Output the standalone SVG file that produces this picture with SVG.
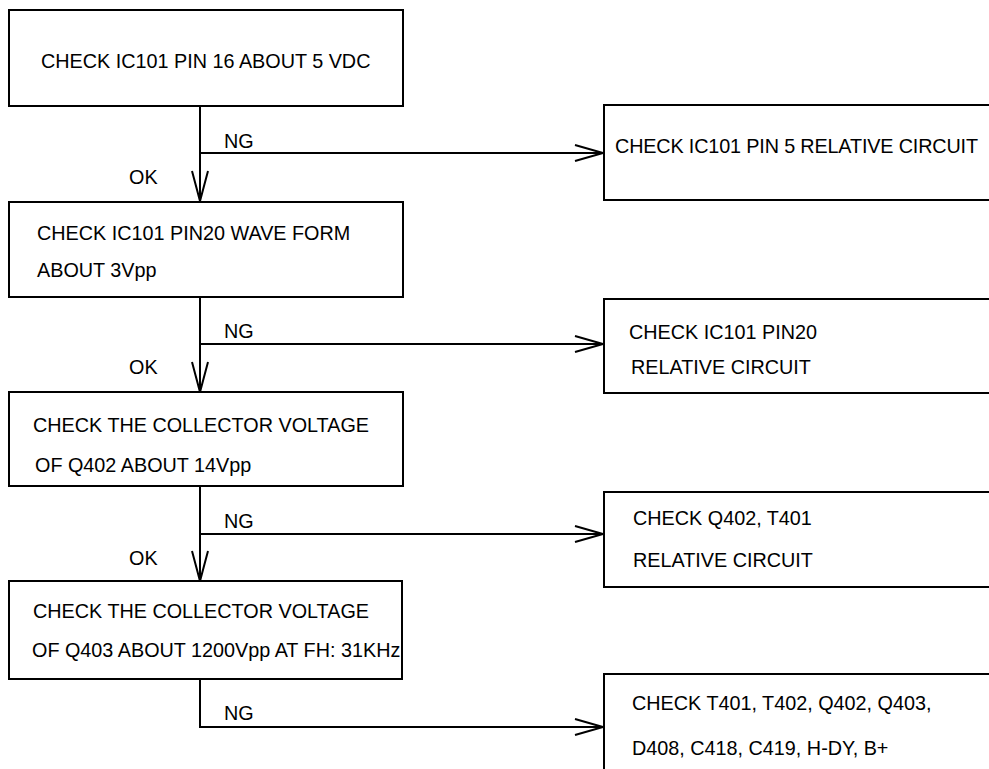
<svg xmlns="http://www.w3.org/2000/svg" width="989" height="769" viewBox="0 0 989 769">
<style>
.box{fill:#fff;stroke:#000;stroke-width:2}
.t{font-family:"Liberation Sans",Arial,sans-serif;font-size:19.8px;fill:#000}
.c{fill:none;stroke:#000;stroke-width:2}
</style>
<rect width="989" height="769" fill="#fff"/>
<g id="connectors">
<path class="c" d="M200 106V201M200 153H603M192 171L200 201L208 171M575 145L603 153L575 161"/>
<path class="c" d="M200 297V392M200 344H603M192 362L200 392L208 362M575 336L603 344L575 352"/>
<path class="c" d="M200 486V581M200 534H603M192 551L200 581L208 551M575 526L603 534L575 542"/>
<path class="c" d="M200 679V728M200 727H603M575 719L603 727L575 735"/>
<text class="t" x="224" y="148">NG</text>
<text class="t" x="129" y="184">OK</text>
<text class="t" x="224" y="338">NG</text>
<text class="t" x="129" y="374">OK</text>
<text class="t" x="224" y="528">NG</text>
<text class="t" x="129" y="565">OK</text>
<text class="t" x="224" y="720">NG</text>
</g>
<g id="n1"><rect class="box" x="9" y="10" width="394" height="96"/><text class="t" x="41" y="68">CHECK IC101 PIN 16 ABOUT 5 VDC</text></g>
<g id="n2"><rect class="box" x="9" y="202" width="394" height="95"/><text class="t" x="37" y="240">CHECK IC101 PIN20 WAVE FORM</text><text class="t" x="37" y="277">ABOUT 3Vpp</text></g>
<g id="n3"><rect class="box" x="9" y="392" width="394" height="94"/><text class="t" x="33" y="432">CHECK THE COLLECTOR VOLTAGE</text><text class="t" x="35" y="472">OF Q402 ABOUT 14Vpp</text></g>
<g id="n4"><rect class="box" x="9" y="581" width="393" height="98"/><text class="t" x="33" y="618">CHECK THE COLLECTOR VOLTAGE</text><text class="t" x="32" y="657">OF Q403 ABOUT 1200Vpp AT FH: 31KHz</text></g>
<g id="r1"><rect class="box" x="604" y="105" width="420" height="95"/><text class="t" x="615" y="153" textLength="363" lengthAdjust="spacing">CHECK IC101 PIN 5 RELATIVE CIRCUIT</text></g>
<g id="r2"><rect class="box" x="604" y="299" width="420" height="94"/><text class="t" x="629" y="339">CHECK IC101 PIN20</text><text class="t" x="631" y="374">RELATIVE CIRCUIT</text></g>
<g id="r3"><rect class="box" x="604" y="492" width="420" height="95"/><text class="t" x="633" y="525">CHECK Q402, T401</text><text class="t" x="633" y="567">RELATIVE CIRCUIT</text></g>
<g id="r4"><rect class="box" x="604" y="674" width="420" height="120"/><text class="t" x="632" y="710">CHECK T401, T402, Q402, Q403,</text><text class="t" x="632" y="755">D408, C418, C419, H-DY, B+</text></g>
</svg>
